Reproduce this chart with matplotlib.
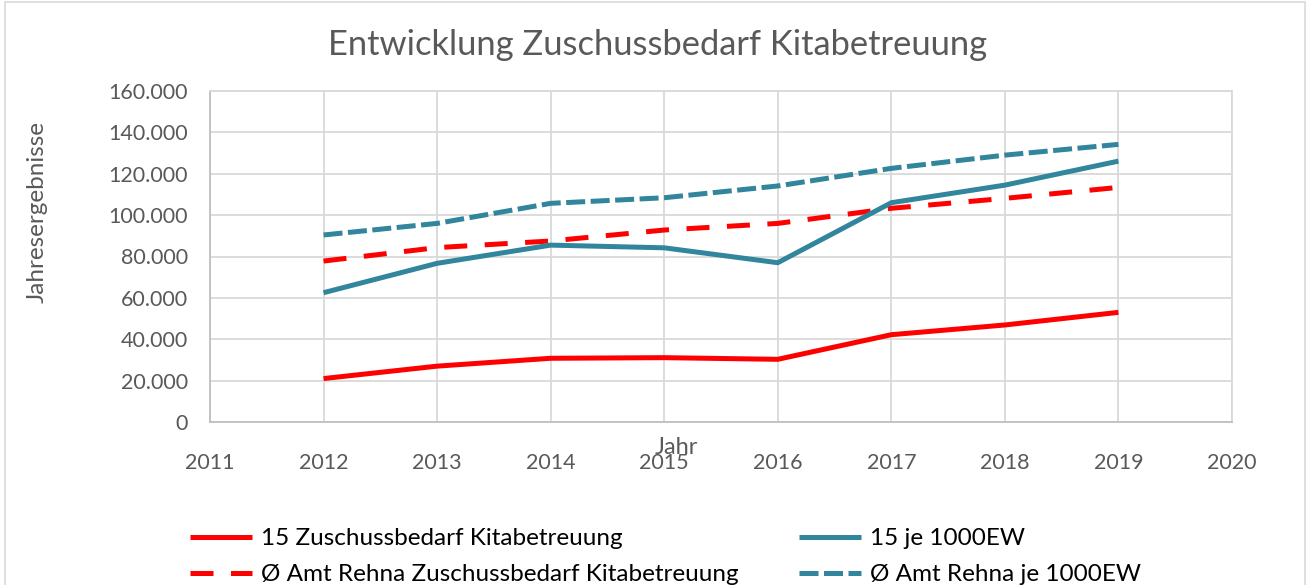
import matplotlib
matplotlib.use("Agg")
import matplotlib.pyplot as plt
from matplotlib.ticker import FuncFormatter, MultipleLocator
from matplotlib.patches import Rectangle

years = [2012, 2013, 2014, 2015, 2016, 2017, 2018, 2019]
zuschuss_15 = [21000, 27000, 30800, 31100, 30300, 42200, 46900, 53000]
je1000_15 = [62500, 76700, 85500, 84200, 77000, 106000, 114500, 126100]
amt_zuschuss = [77800, 84300, 87500, 92800, 96000, 103300, 108100, 113400]
amt_je1000 = [90400, 96000, 105700, 108400, 114100, 122600, 129000, 134200]

labels = ["15 Zuschussbedarf Kitabetreuung", "15 je 1000EW",
          "Ø Amt Rehna Zuschussbedarf Kitabetreuung", "Ø Amt Rehna je 1000EW"]

RED = "#FF0000"
TEAL = "#31859C"
TXT = "#595959"
GRID = "#D9D9D9"

plt.rcParams['font.family'] = ['Lato', 'DejaVu Sans']

W, H = 1309, 585
fig = plt.figure(figsize=(W / 100, H / 100), dpi=100)
fig.patches.append(Rectangle((5 / W, -0.01), (1305 - 5) / W, 1.0 - 2 / H + 0.01,
                             transform=fig.transFigure, fill=False,
                             edgecolor="#D9D9D9", linewidth=1.2, zorder=0))

ax = fig.add_axes([210 / W, (H - 422) / H, (1232 - 210) / W, (422 - 91) / H])

lw = 3.6
l1, = ax.plot(years, zuschuss_15, color=RED, lw=lw, solid_capstyle='butt', zorder=4)
l2, = ax.plot(years, je1000_15, color=TEAL, lw=lw, solid_capstyle='butt', zorder=4)
l3, = ax.plot(years, amt_zuschuss, color=RED, lw=lw, dashes=(4.6, 3.5),
              dash_capstyle='butt', zorder=3)
l4, = ax.plot(years, amt_je1000, color=TEAL, lw=lw, dashes=(3.8, 1.1),
              dash_capstyle='butt', zorder=3)

ax.set_xlim(2011, 2020)
ax.set_ylim(0, 160000)
ax.xaxis.set_major_locator(MultipleLocator(1))
ax.yaxis.set_major_locator(MultipleLocator(20000))


def fmt(v, pos):
    if v == 0:
        return "0"
    return f"{int(v):,}".replace(",", ".")


ax.yaxis.set_major_formatter(FuncFormatter(fmt))
ax.xaxis.set_major_formatter(FuncFormatter(lambda v, p: f"{int(v)}"))
ax.grid(True, color=GRID, lw=1.3, zorder=0)
for s in ["top", "right"]:
    ax.spines[s].set_color(GRID)
    ax.spines[s].set_linewidth(1.3)
ax.spines["left"].set_color("#BFBFBF")
ax.spines["left"].set_linewidth(1.3)
ax.spines["bottom"].set_color("#BFBFBF")
ax.spines["bottom"].set_linewidth(1.3)
ax.tick_params(axis='both', length=0, labelsize=15.5, colors=TXT)
ax.tick_params(axis='x', pad=22)
ax.tick_params(axis='y', pad=16)
ax.set_axisbelow(True)

fig.text(658 / W, 1 - 45 / H, "Entwicklung Zuschussbedarf Kitabetreuung",
         ha="center", va="center", fontsize=24.8, color=TXT)
fig.text(676 / W, 1 - 447 / H, "Jahr", ha="center", va="center",
         fontsize=17, color=TXT)
fig.text(37 / W, 1 - 212 / H, "Jahresergebnisse", ha="center", va="center",
         rotation=90, fontsize=17.5, color=TXT)

leg = fig.legend([l1, l3, l2, l4], [labels[0], labels[2], labels[1], labels[3]],
                 ncol=2, frameon=False,
                 loc="upper left", bbox_to_anchor=(190 / W, 1 - 528 / H),
                 borderaxespad=0, borderpad=0, fontsize=17.5,
                 handlelength=2.55, handletextpad=0.37, columnspacing=2.5,
                 labelspacing=0.62)
for t in leg.get_texts():
    t.set_color("black")

fig.savefig("out.png", dpi=100)
